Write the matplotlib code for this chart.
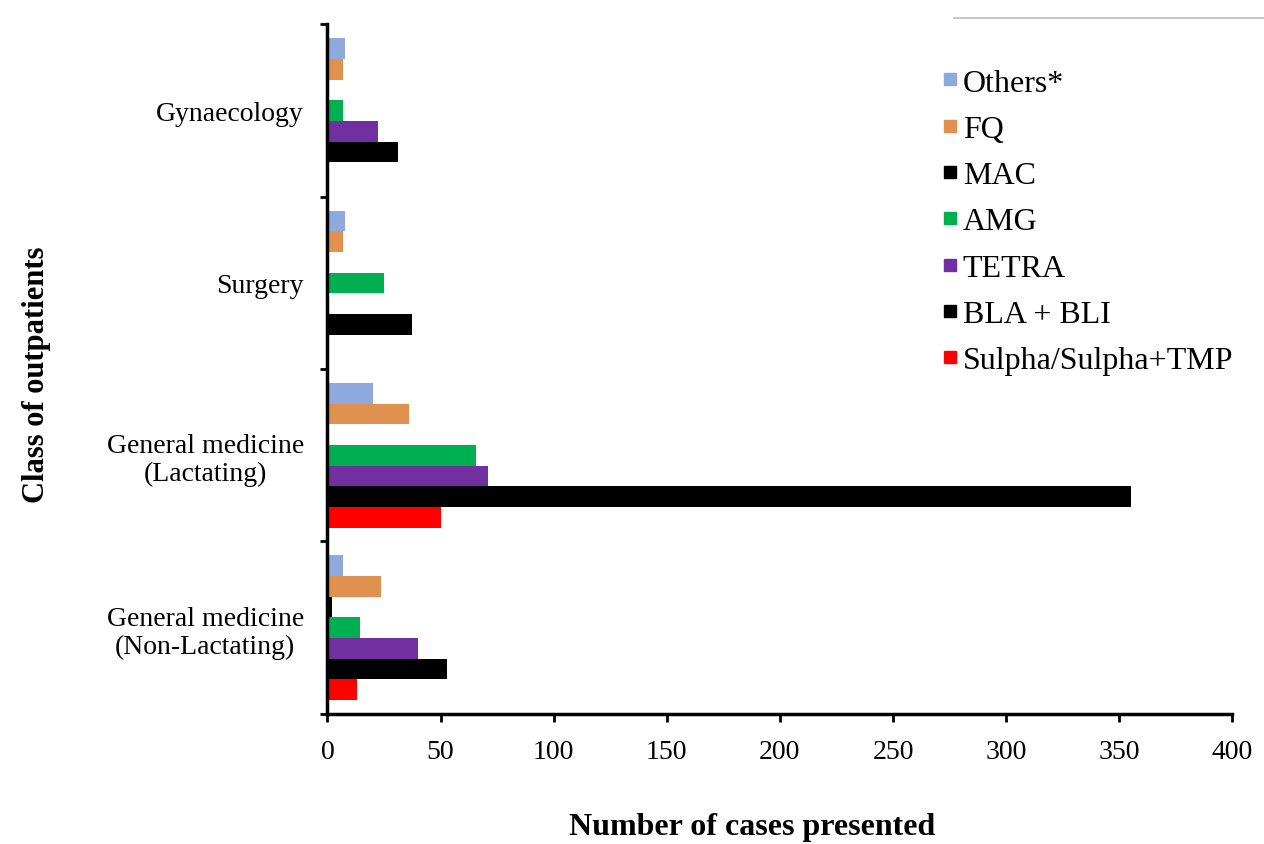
import numpy as np
import matplotlib
matplotlib.use('Agg')
import matplotlib.pyplot as plt
from matplotlib.lines import Line2D

plt.rc('font', family='Liberation Serif')

categories = ['General medicine\n(Non-Lactating)', 'General medicine\n(Lactating)',
              'Surgery', 'Gynaecology']

# series listed bottom-to-top within each group
series_names = ['Sulpha/Sulpha+TMP', 'BLA + BLI', 'TETRA', 'AMG', 'MAC', 'FQ', 'Others*']
series_colors = ['#FF0000', '#000000', '#7030A0', '#00B050', '#000000', '#E0904F', '#8EA9DB']

sulpha = [13, 50, 0, 0]
bla_bli = [53, 355, 37.5, 31]
tetra = [40, 71, 0, 22.5]
amg = [14.5, 65.5, 25, 7]
mac = [2, 0, 0, 0]
fq = [23.5, 36, 7, 7]
others = [7, 20, 8, 8]

values = [sulpha, bla_bli, tetra, amg, mac, fq, others]

fig = plt.figure(figsize=(12.64, 8.45), dpi=100)
ax = fig.add_axes([0.259, 0.154, 0.716, 0.816])

y = np.arange(len(categories))
h = 0.12
handles = []
for i, (name, col, vals) in enumerate(zip(series_names, series_colors, values)):
    ax.barh(y + (i - 3) * h, vals, height=h, color=col)
    handles.append(Line2D([], [], marker='s', linestyle='None', color=col,
                          markersize=8, label=name))

ax.set_xlim(0, 400)
ax.set_ylim(-0.5, 3.5)
ax.set_xticks(np.arange(0, 401, 50))
ax.set_yticks(y)
ax.set_yticklabels(categories, fontsize=20, ha='right', multialignment='center',
                   linespacing=1.15)
ax.tick_params(axis='y', which='major', length=0, pad=17)
ax.set_yticks([-0.5, 0.5, 1.5, 2.5, 3.5], minor=True)
ax.tick_params(axis='y', which='minor', length=5, width=2, direction='out')
ax.tick_params(axis='x', labelsize=20, length=6, width=2, direction='out', pad=12)

for s in ['top', 'right']:
    ax.spines[s].set_visible(False)
for s in ['left', 'bottom']:
    ax.spines[s].set_linewidth(2.5)

fig.text(0.595, 0.021, 'Number of cases presented', fontsize=23, fontweight='bold',
         ha='center', va='center')
fig.text(0.029, 0.556, 'Class of outpatients', fontsize=22, fontweight='bold',
         ha='center', va='center', rotation=90)

ax.legend(handles=handles[::-1], loc='upper left', bbox_to_anchor=(0.665, 0.955),
          frameon=False, fontsize=23, handlelength=0.5, handletextpad=0.15,
          labelspacing=0.53, borderaxespad=0)

# thin grey rule at top right of the original figure
fig.add_artist(Line2D([0.755, 1.0], [0.977, 0.977], color='#BBBBBB', linewidth=1.2))

fig.savefig('out.png', dpi=100)
